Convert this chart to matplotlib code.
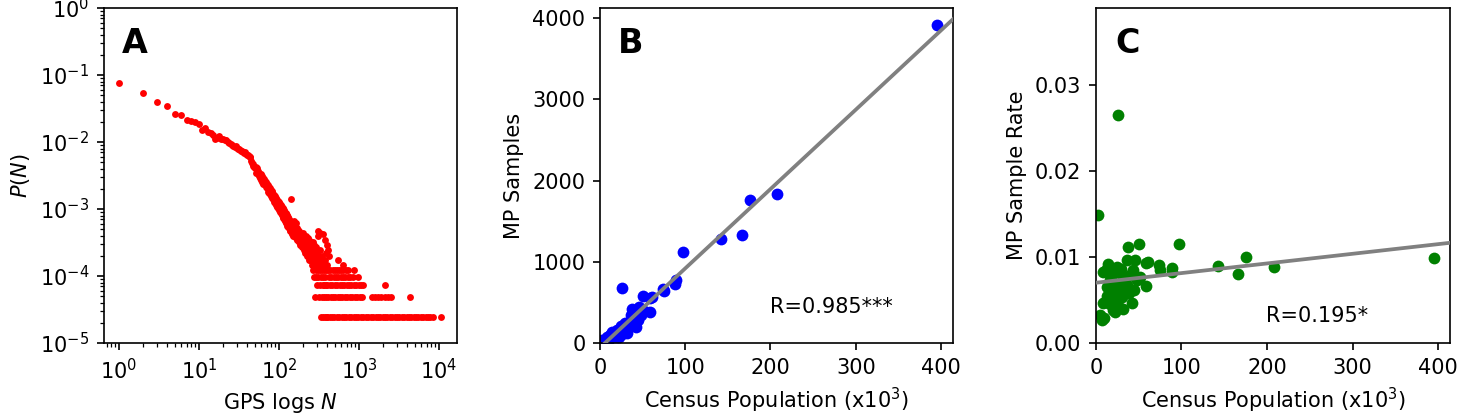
import matplotlib
matplotlib.use("Agg")
import matplotlib.pyplot as plt
import numpy as np

# ---- panel A: number of users per GPS-log count N ----
n_users = 40800

head_n = np.arange(1, 151)
head_count = [
    3130, 2170, 1595, 1404, 1081, 1020, 869, 845, 812, 751,
    616, 653, 581, 550, 518, 458, 462, 500, 455, 445,
    440, 430, 405, 395, 380, 372, 360, 348, 352, 330,
    322, 318, 305, 300, 296, 292, 280, 285, 270, 262,
    265, 250, 248, 240, 215, 198, 190, 178, 170, 165,
    172, 142, 165, 138, 150, 125, 140, 118, 135, 112,
    128, 105, 120, 98, 115, 95, 108, 88, 102, 84,
    97, 80, 92, 74, 88, 70, 84, 68, 79, 64,
    76, 60, 72, 57, 69, 55, 66, 52, 63, 50,
    60, 47, 58, 45, 56, 43, 54, 42, 51, 40,
    52, 39, 49, 37, 47, 36, 45, 34, 44, 33,
    42, 31, 41, 30, 39, 29, 38, 28, 36, 27,
    35, 26, 34, 25, 33, 24, 32, 23, 31, 22,
    30, 22, 29, 21, 28, 20, 27, 19, 26, 19,
    25, 58, 24, 18, 24, 17, 23, 17, 22, 16,
]

mid_n = np.arange(152, 301, 2)
mid_count = [
    24, 16, 27, 18, 22, 15, 25, 17, 14, 21,
    14, 20, 17, 13, 19, 14, 12, 18, 13, 17,
    11, 16, 12, 18, 11, 15, 10, 16, 12, 9,
    15, 11, 10, 16, 9, 14, 8, 13, 10, 15,
    8, 13, 9, 7, 14, 9, 8, 12, 7, 13,
    8, 11, 6, 12, 8, 7, 13, 6, 11, 5,
    9, 4, 8, 12, 6, 10, 2, 7, 5, 11,
    8, 4, 6, 3, 9,
]

tail_n = [302, 305, 308, 310, 311, 314, 317, 320, 323, 326, 329, 330, 332, 335,
          338, 341, 344, 347, 350, 353, 355, 356, 359, 362, 365, 368, 371, 372,
          374, 377, 380, 383, 386, 389, 392, 395, 397, 399, 410, 425, 545, 640, 870]
tail_count = [7, 5, 16, 19, 4, 8, 2, 6, 5, 10, 3, 18, 7, 4,
              1, 6, 5, 2, 8, 3, 17, 4, 1, 6, 5, 2, 3, 14,
              7, 1, 4, 9, 2, 5, 3, 12, 1, 6, 10, 8, 7, 6, 5]

# large N: which N values have exactly 5, 4, 3, 2, 1 users
n_with_5 = [406, 438, 468, 502, 528, 563, 598, 641, 688, 736]
n_with_4 = [418, 452, 483, 514, 552, 591, 633, 679, 728, 781, 833, 962]
n_with_3 = [404, 434, 463, 497, 533, 572, 612, 652, 703, 752, 805, 862, 921,
            993, 1062, 1141, 2110]
n_with_2 = [415, 446, 477, 507, 541, 582, 622, 663, 711, 763, 821, 883, 951,
            1022, 1108, 1446, 1598, 1752, 1903, 2098, 2305, 2552, 4350]
n_with_1 = [401, 433, 462, 494, 531, 567, 607, 648, 697, 748, 802, 857, 918,
            987, 1058, 1136, 1221, 1308, 1402, 1503, 1612, 1726, 1851, 1983,
            2124, 2276, 2437, 2611, 2796, 2993, 3208, 3434, 3677, 3936, 4213,
            4512, 4830, 5172, 5538, 5930, 6349, 6801, 7282, 7797, 8354, 10620]

# ---- panels B, C: census population (x10^3) vs MP samples ----
population = [395, 208, 176, 166, 142.5, 97.5, 89, 88.5, 74, 75,
              60.5, 59, 58.6, 50.7, 51.5, 45.7, 43.7, 47.6, 37.8, 36.5,
              35.9, 41.8, 39, 32, 32, 28, 32, 29, 25.4, 24.2,
              24.2, 24, 26.2, 30, 22.2, 20.3, 20.3, 18.3, 17.9, 16.4,
              16.4, 16.4, 14.4, 14.4, 12.5, 10.5, 8.6, 8.6, 6.6, 9.7,
              2.7, 12, 20, 28, 22, 40, 45, 34, 19, 26, 13, 5]
samples = [3911, 1840, 1755, 1330, 1280, 1122, 775, 728, 670, 638,
           569, 549, 387, 580, 397, 443, 371, 347, 422, 350,
           242, 192, 226, 128, 208, 171, 246, 249, 672, 213,
           152, 110, 131, 162, 80, 114, 77, 81, 138, 120,
           102, 75, 132, 72, 68, 50, 71, 40, 18, 28,
           40, 102, 164, 227, 150, 316, 279, 241, 99, 109, 85, 16]

# fitted lines
fit_samples = (9.77, -58.0)      # slope, intercept
fit_rate = (1.12e-5, 0.0070)
r_samples = "R=0.985***"
r_rate = "R=0.195*"

plt.rcParams["font.size"] = 10

fig = plt.figure(figsize=(9.72, 2.8), dpi=150)
ax_a = fig.add_axes([0.0713, 0.1833, 0.2421, 0.7976])
ax_b = fig.add_axes([0.4115, 0.1833, 0.2421, 0.7976])
ax_c = fig.add_axes([0.7517, 0.1833, 0.2428, 0.7976])

# A
groups = [(head_n, head_count), (mid_n, mid_count), (tail_n, tail_count),
          (n_with_5, [5] * len(n_with_5)), (n_with_4, [4] * len(n_with_4)),
          (n_with_3, [3] * len(n_with_3)), (n_with_2, [2] * len(n_with_2)),
          (n_with_1, [1] * len(n_with_1))]
for n, c in groups:
    ax_a.plot(n, np.asarray(c) / n_users, "o", color="red",
              markersize=3.3, markeredgewidth=0)
ax_a.set_xscale("log")
ax_a.set_yscale("log")
ax_a.set_xlim(0.65, 16800)
ax_a.set_ylim(1e-5, 1)
ax_a.set_xlabel("GPS logs $N$")
ax_a.set_ylabel("$P(N)$")
ax_a.text(0.05, 0.866, "A", transform=ax_a.transAxes, fontsize=16,
          fontweight="bold", va="baseline")

# B
pop = np.array(population)
smp = np.array(samples)
xs = np.array([0, 420])
ax_b.scatter(pop, smp, s=32, color="blue", linewidths=0, zorder=2)
ax_b.plot(xs, fit_samples[0] * xs + fit_samples[1], color="gray", lw=1.8,
          zorder=3)
ax_b.set_xlim(0, 414)
ax_b.set_ylim(0, 4125)
ax_b.set_yticks([0, 1000, 2000, 3000, 4000])
ax_b.set_xticks([0, 100, 200, 300, 400])
ax_b.set_xlabel("Census Population (x10$^3$)")
ax_b.set_ylabel("MP Samples")
ax_b.text(0.05, 0.866, "B", transform=ax_b.transAxes, fontsize=16,
          fontweight="bold", va="baseline")
ax_b.text(0.482, 0.089, r_samples, transform=ax_b.transAxes, va="baseline")

# C
rate = smp / (pop * 1000)
ax_c.scatter(pop, rate, s=32, color="green", linewidths=0, zorder=2)
ax_c.plot(xs, fit_rate[0] * xs + fit_rate[1], color="gray", lw=1.8, zorder=3)
ax_c.set_xlim(0, 414)
ax_c.set_ylim(0, 0.0389)
ax_c.set_yticks([0, 0.01, 0.02, 0.03])
ax_c.set_yticklabels(["0.00", "0.01", "0.02", "0.03"])
ax_c.set_xticks([0, 100, 200, 300, 400])
ax_c.set_xlabel("Census Population (x10$^3$)")
ax_c.set_ylabel("MP Sample Rate")
ax_c.text(0.054, 0.866, "C", transform=ax_c.transAxes, fontsize=16,
          fontweight="bold", va="baseline")
ax_c.text(0.48, 0.064, r_rate, transform=ax_c.transAxes, va="baseline")

fig.savefig("out.png", dpi=150)
plt.close(fig)
